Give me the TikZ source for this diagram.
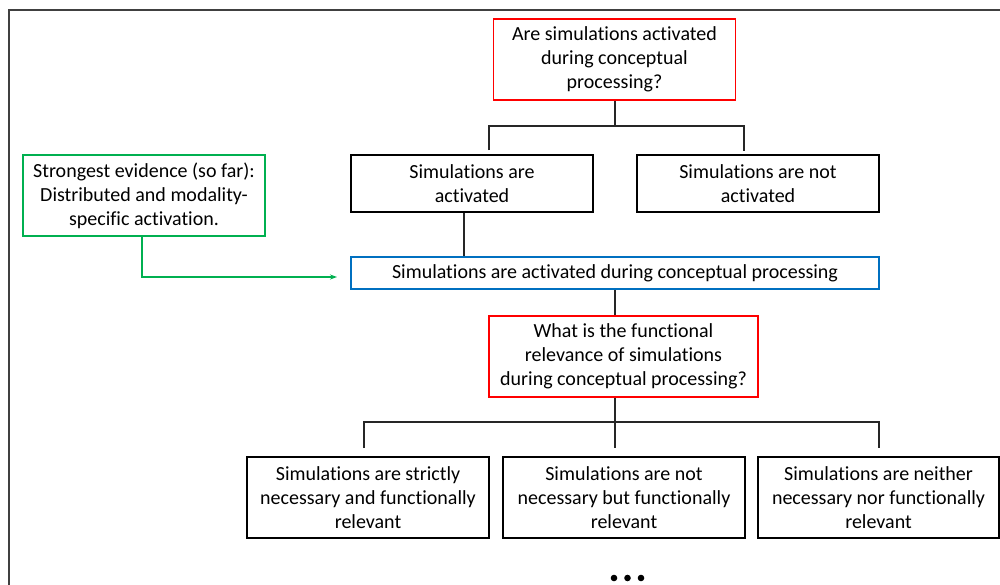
\documentclass[tikz,border=0pt]{standalone}
\usepackage{fontspec}
\setmainfont{Carlito}[Ligatures=NoCommon]
\usetikzlibrary{arrows.meta}
\definecolor{qred}{HTML}{FF0000}
\definecolor{bblue}{HTML}{0070C0}
\definecolor{ggreen}{HTML}{00B050}
\definecolor{framegray}{HTML}{404040}
\begin{document}
\begin{tikzpicture}[x=1pt,y=-1pt,
  box/.style={draw=black, line width=1.6pt, inner sep=0pt, align=center,
    font=\fontsize{20}{24}\selectfont, minimum width=242pt, minimum height=#1},
  box/.default=81pt,
  qbox/.style={box=#1, draw=qred},
  qbox/.default=81pt,
  conn/.style={draw=black!85, line width=1.3pt},
  garrow/.style={draw=ggreen, line width=1.4pt, -{Stealth[length=7pt,width=5pt]}}]
\useasboundingbox (0,0) rectangle (1000,585);
\fill[white] (0,0) rectangle (1000,585);
% frame
\coordinate (ftl) at (9,10);
\draw[framegray, line width=1.2pt] (1000,10) -- (ftl) -- (9,585);

% nodes
\node[qbox] (q1) at (614.5,59.5) {Are simulations activated\\during conceptual\\processing?};
\node[box=57pt] (a) at (472,183.5) {Simulations are\\activated};
\node[box=57pt] (b) at (758,183.5) {Simulations are not\\activated};
\node[box=32pt, draw=bblue, minimum width=528pt] (act) at (615,273) {Simulations are activated during conceptual processing};
\node[box, draw=ggreen] (g) at (144,195.5) {Strongest evidence (so far):\\Distributed and modality-\\specific activation.};
\node[qbox, minimum width=269pt] (q2) at (623.5,356.5) {What is the functional\\relevance of simulations\\during conceptual processing?};
\node[box] (c) at (368,497.5) {Simulations are strictly\\necessary and functionally\\relevant};
\node[box] (d) at (624,497.5) {Simulations are not\\necessary but functionally\\relevant};
\node[box, minimum width=241pt] (e) at (878.5,497.5) {Simulations are neither\\necessary nor functionally\\relevant};

% junction coordinates
\coordinate (j1) at (615,126);
\coordinate (j1l) at (489,126);
\coordinate (j1r) at (744,126);
\coordinate (j2) at (615,422);
\coordinate (j2l) at (364,422);
\coordinate (j2r) at (879,422);
\coordinate (ga) at (337,277);

% connectors
\draw[conn] (q1.south -| j1) -- (j1);
\draw[conn] (j1l |- a.north) ++(0,-4) -- (j1l) -- (j1r) -- ++(0,25);
\draw[conn] (a.south -| 464,0) -- (act.north -| 464,0);
\draw[conn] (act.south -| j2) -- (q2.north -| j2);
\draw[conn] (q2.south -| j2) -- (j2);
\draw[conn] (j2l) ++(0,26) -- (j2l) -- (j2r) -- ++(0,26);
\draw[conn] (j2) -- ++(0,26);
\draw[garrow] (g.south -| 142,0) |- (ga);

% dots
\foreach \x in {614,627.5,641} \fill (\x,578) circle (3.3pt);
\end{tikzpicture}
\end{document}
